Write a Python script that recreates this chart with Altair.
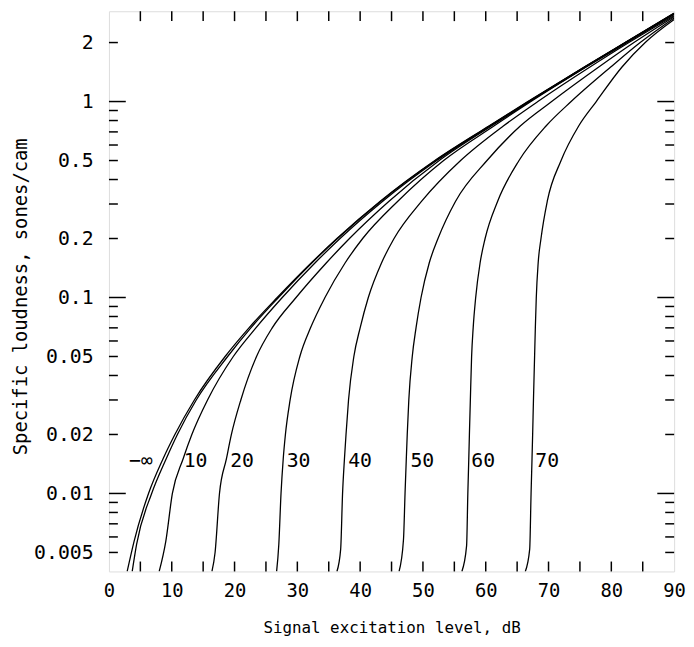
import altair as alt
import pandas as pd

# ---- curve data: x = signal level (dB), y = sones/cam ----
x_ninf = [2.9, 4.0, 6.3, 8.6, 10.5, 13.6, 18.5, 22.3, 26.8, 32.2, 36.3, 43.2, 51.9, 60.5, 66.7, 75.7, 82.2, 90.0]
y_ninf = [0.004, 0.0057, 0.01, 0.015, 0.02, 0.03, 0.05, 0.07, 0.1, 0.15, 0.2, 0.31, 0.5, 0.75, 1.0, 1.5, 2.0, 2.82]

x_n0 = [3.7, 4.4, 6.8, 9.1, 10.9, 13.9, 18.9, 22.6, 27.0, 32.3, 36.4, 43.3, 52.0, 60.6, 66.8, 75.7, 82.2, 90.0]
y_n0 = [0.004, 0.0055, 0.01, 0.015, 0.02, 0.03, 0.05, 0.07, 0.1, 0.15, 0.2, 0.31, 0.5, 0.75, 1.0, 1.5, 2.0, 2.82]

x_n10 = [8.0, 9.05, 10.1, 11.8, 13.2, 15.7, 19.8, 23.4, 27.6, 32.8, 36.8, 43.6, 52.2, 60.7, 66.9, 75.8, 82.3, 90.0]
y_n10 = [0.004, 0.0057, 0.01, 0.015, 0.02, 0.03, 0.05, 0.07, 0.1, 0.15, 0.2, 0.31, 0.5, 0.75, 1.0, 1.5, 2.0, 2.81]

x_n20 = [16.4, 16.9, 17.6, 18.7, 19.5, 21.0, 23.5, 26.0, 29.8, 34.6, 38.3, 44.6, 52.6, 60.9, 67.0, 75.9, 82.3, 90.0]
y_n20 = [0.004, 0.005, 0.01, 0.015, 0.02, 0.03, 0.05, 0.07, 0.1, 0.15, 0.2, 0.31, 0.5, 0.75, 1.0, 1.5, 2.0, 2.80]

x_n30 = [26.7, 27.05, 27.4, 27.75, 28.1, 28.85, 30.4, 32.1, 34.4, 37.6, 40.4, 46.0, 53.3, 61.3, 67.2, 76.0, 82.5, 90.0]
y_n30 = [0.004, 0.0055, 0.01, 0.015, 0.02, 0.03, 0.05, 0.07, 0.1, 0.15, 0.2, 0.31, 0.5, 0.75, 1.0, 1.5, 2.0, 2.78]

x_n40 = [36.3, 36.9, 37.2, 37.5, 37.75, 38.15, 39.0, 40.0, 41.3, 43.4, 45.4, 49.8, 56.0, 62.8, 68.3, 76.6, 82.8, 90.0]
y_n40 = [0.004, 0.0052, 0.01, 0.015, 0.02, 0.03, 0.05, 0.07, 0.1, 0.15, 0.2, 0.31, 0.5, 0.75, 1.0, 1.5, 2.0, 2.74]

x_n50 = [46.2, 46.9, 47.15, 47.35, 47.5, 47.75, 48.3, 48.9, 49.7, 51.0, 52.4, 55.2, 60.2, 65.5, 70.5, 78.0, 83.6, 90.0]
y_n50 = [0.004, 0.0058, 0.01, 0.015, 0.02, 0.03, 0.05, 0.07, 0.1, 0.15, 0.2, 0.31, 0.5, 0.75, 1.0, 1.5, 2.0, 2.71]

x_n60 = [56.2, 56.95, 57.15, 57.3, 57.4, 57.55, 57.75, 58.0, 58.4, 59.1, 59.9, 61.9, 65.3, 69.6, 73.6, 79.9, 84.6, 90.0]
y_n60 = [0.004, 0.0054, 0.01, 0.015, 0.02, 0.03, 0.05, 0.07, 0.1, 0.15, 0.2, 0.31, 0.5, 0.75, 1.0, 1.5, 2.0, 2.67]

x_n70 = [66.3, 67.0, 67.22, 67.37, 67.47, 67.6, 67.78, 67.9, 68.05, 68.35, 68.8, 69.8, 72.0, 74.8, 77.6, 81.7, 85.4, 90.0]
y_n70 = [0.004, 0.0052, 0.01, 0.015, 0.02, 0.03, 0.05, 0.07, 0.1, 0.15, 0.2, 0.31, 0.5, 0.75, 1.0, 1.5, 2.0, 2.62]

curve_names = ["-inf", "0", "10", "20", "30", "40", "50", "60", "70"]
curve_x = [x_ninf, x_n0, x_n10, x_n20, x_n30, x_n40, x_n50, x_n60, x_n70]
curve_y = [y_ninf, y_n0, y_n10, y_n20, y_n30, y_n40, y_n50, y_n60, y_n70]

# ---- curve labels ----
label_text = ["\u2212\u221e", "10", "20", "30", "40", "50", "60", "70"]
label_x = [3.2, 11.9, 19.3, 28.3, 38.1, 48.0, 57.7, 67.9]
label_y = [0.0146, 0.0146, 0.0146, 0.0146, 0.0146, 0.0146, 0.0146, 0.0146]

# ---- axes ----
x_tick_labels = [0, 10, 20, 30, 40, 50, 60, 70, 80, 90]
x_ticks = [5, 10, 15, 20, 25, 30, 35, 40, 45, 50, 55, 60, 65, 70, 75, 80, 85]
y_tick_labels = [0.005, 0.01, 0.02, 0.05, 0.1, 0.2, 0.5, 1, 2]
y_major_ticks = [0.01, 0.1, 1]
y_minor_ticks = [0.005, 0.006, 0.007, 0.008, 0.009,
                 0.02, 0.03, 0.04, 0.05, 0.06, 0.07, 0.08, 0.09,
                 0.2, 0.3, 0.4, 0.5, 0.6, 0.7, 0.8, 0.9, 2]

W = 571
H = 566
FONT = "DejaVu Sans Mono"

rows = []
for name, xs, ys in zip(curve_names, curve_x, curve_y):
    for i, (a, b) in enumerate(zip(xs, ys)):
        rows.append({"curve": name, "i": i, "x": a, "y": b})
df = pd.DataFrame(rows)

xscale = alt.Scale(domain=[0, 90], nice=False, zero=False)
yscale = alt.Scale(type="log", domain=[0.004, 2.89], nice=False)

lines = alt.Chart(df).mark_line(color="black", strokeWidth=1.3, clip=True,
                                interpolate="monotone").encode(
    x=alt.X("x:Q", scale=xscale,
            axis=alt.Axis(values=x_tick_labels, ticks=False, domain=False, grid=False,
                          labelFont=FONT, labelFontSize=19, labelColor="black",
                          labelPadding=10, labelFlush=False,
                          title="Signal excitation level, dB", titleFont=FONT,
                          titleFontSize=16, titleFontWeight="normal", titleColor="black",
                          titleX=W / 2, titleY=57, titleBaseline="middle")),
    y=alt.Y("y:Q", scale=yscale,
            axis=alt.Axis(values=y_tick_labels, ticks=False, domain=False, grid=False,
                          format="~g", labelFont=FONT, labelFontSize=20,
                          labelColor="black", labelPadding=16, labelFlush=False,
                          title="Specific loudness, sones/cam", titleFont=FONT,
                          titleFontSize=19, titleFontWeight="normal", titleColor="black",
                          titleX=-89, titleY=288, titleAngle=270,
                          titleBaseline="middle", titleAlign="center")),
    detail="curve:N",
    order="i:Q",
)

labels = alt.Chart(pd.DataFrame({"t": label_text, "x": label_x, "y": label_y})).mark_text(
    font=FONT, fontSize=20, align="left", baseline="middle", color="black"
).encode(x=alt.X("x:Q", scale=xscale), y=alt.Y("y:Q", scale=yscale), text="t:N")

xt = pd.DataFrame({"x": x_ticks})
xt_bottom = alt.Chart(xt).mark_rule(color="black", strokeWidth=1.5).encode(
    x=alt.X("x:Q", scale=xscale), y=alt.value(H), y2=alt.value(H - 10))
xt_top = alt.Chart(xt).mark_rule(color="black", strokeWidth=1.5).encode(
    x=alt.X("x:Q", scale=xscale), y=alt.value(0), y2=alt.value(10))

ymn = pd.DataFrame({"y": y_minor_ticks})
ymj = pd.DataFrame({"y": y_major_ticks})
yt_left_minor = alt.Chart(ymn).mark_rule(color="black", strokeWidth=1.5).encode(
    y=alt.Y("y:Q", scale=yscale), x=alt.value(0), x2=alt.value(9))
yt_right_minor = alt.Chart(ymn).mark_rule(color="black", strokeWidth=1.5).encode(
    y=alt.Y("y:Q", scale=yscale), x=alt.value(W), x2=alt.value(W - 9))
yt_left_major = alt.Chart(ymj).mark_rule(color="black", strokeWidth=1.5).encode(
    y=alt.Y("y:Q", scale=yscale), x=alt.value(0), x2=alt.value(17))
yt_right_major = alt.Chart(ymj).mark_rule(color="black", strokeWidth=1.5).encode(
    y=alt.Y("y:Q", scale=yscale), x=alt.value(W), x2=alt.value(W - 17))

chart = alt.layer(
    lines, labels, xt_bottom, xt_top,
    yt_left_minor, yt_right_minor, yt_left_major, yt_right_major
).properties(
    width=W, height=H,
    autosize=alt.AutoSizeParams(type="none"),
    padding={"left": 102, "top": 0, "right": 12, "bottom": 65},
).configure_view(
    stroke="black", strokeWidth=2
).configure(background="white")

chart.save("out.html", embed_options={"renderer": "svg", "actions": False})
